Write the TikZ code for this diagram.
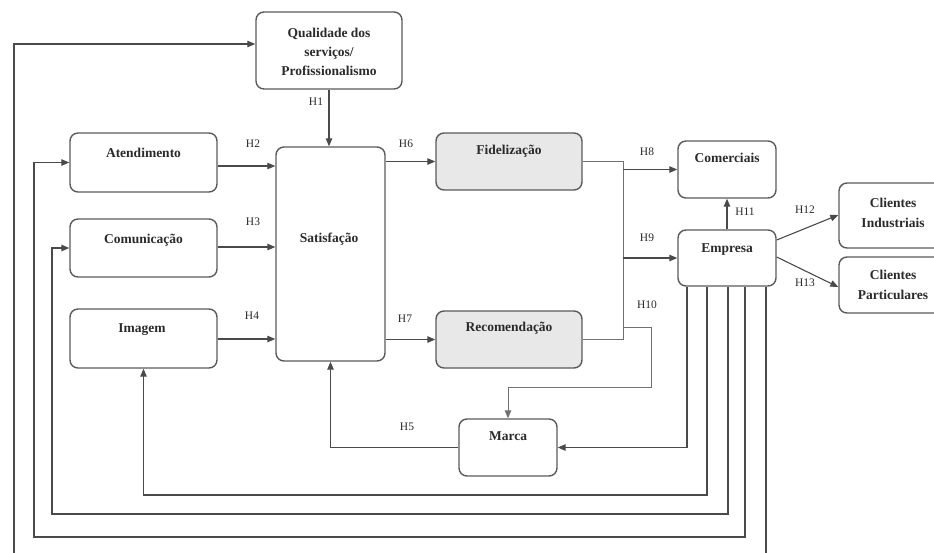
\documentclass[tikz,border=0pt]{standalone}
\usepackage{fontspec}
\setmainfont{Liberation Serif}
\usetikzlibrary{arrows.meta}
\definecolor{ln}{HTML}{4A4A4A}
\definecolor{lnl}{HTML}{707070}
\definecolor{bx}{HTML}{5A5A5A}
\definecolor{gfill}{HTML}{E8E8E8}
\definecolor{tx}{HTML}{2A2A2A}
\begin{document}
\begin{tikzpicture}[x=1pt,y=-1pt,
  box/.style={draw=bx, line width=1.4pt, rounded corners=8pt, inner sep=0pt},
  gbox/.style={box, fill=gfill},
  lab/.style={font=\fontsize{13.5}{19}\selectfont\bfseries, text=tx, align=center, inner sep=0pt},
  hl/.style={font=\fontsize{11.5}{13}\selectfont, text=tx, inner sep=0pt},
  con/.style={draw=ln, line width=1.1pt},
  arr/.style={con, -{Triangle[length=8pt,width=6.5pt]}},
  lcon/.style={draw=lnl, line width=0.9pt},
  larr/.style={lcon, -{Triangle[length=8pt,width=6.5pt]}}]
\path[use as bounding box] (0,0) rectangle (934,552);
\clip (0,0) rectangle (934,552);

% boxes
\node[box, minimum width=146pt, minimum height=77pt] (qual) at (329,50.5) {};
\node[box, minimum width=147pt, minimum height=59pt] (atd) at (143.5,162.5) {};
\node[box, minimum width=147pt, minimum height=58pt] (com) at (143.5,248) {};
\node[box, minimum width=147pt, minimum height=59pt] (img) at (143.5,338.5) {};
\node[box, minimum width=109pt, minimum height=214pt] (sat) at (330.5,254) {};
\node[gbox, minimum width=146pt, minimum height=57pt] (fid) at (509,161.5) {};
\node[gbox, minimum width=146pt, minimum height=57pt] (rec) at (509,339.5) {};
\node[box, minimum width=98pt, minimum height=57pt] (marca) at (508,447.5) {};
\node[box, minimum width=98pt, minimum height=57pt] (come) at (727,169.5) {};
\node[box, minimum width=98pt, minimum height=56pt] (emp) at (727,258) {};
\node[box, minimum width=108pt, minimum height=65pt] (ci) at (893,215.5) {};
\node[box, minimum width=108pt, minimum height=56pt] (cp) at (893,285) {};

% texts
\node[lab] (tqual) at (329,52) {Qualidade dos\\serviços/\\Profissionalismo};
\node[lab, anchor=mid] (tatd) at (143.5,155) {Atendimento};
\node[lab, anchor=mid] (tcom) at (143.5,241) {Comunicação};
\node[lab, anchor=mid] (timg) at (142,330) {Imagem};
\node[lab, anchor=mid] (tsat) at (329,240) {Satisfação};
\node[lab, anchor=mid] (tfid) at (509,152) {Fidelização};
\node[lab, anchor=mid] (trec) at (509,329) {Recomendação};
\node[lab, anchor=mid] (tmarca) at (508,438) {Marca};
\node[lab, anchor=mid] (tcome) at (727,160) {Comerciais};
\node[lab, anchor=mid] (temp) at (727,250) {Empresa};
\node[lab, font=\fontsize{13.5}{20}\selectfont\bfseries] (tci) at (893,213) {Clientes\\Industriais};
\node[lab, font=\fontsize{13.5}{20}\selectfont\bfseries] (tcp) at (893,285) {Clientes\\Particulares};

% helper coordinates
\coordinate (y44) at (0,44);
\coordinate (y166) at (0,166);
\coordinate (y247) at (0,247);
\coordinate (y339) at (0,339);
\coordinate (y240) at (0,240);
\coordinate (y215) at (0,215);
\coordinate (y257) at (0,257);
\coordinate (y287) at (0,287);
\coordinate (y495) at (0,495);
\coordinate (y514) at (0,514);
\coordinate (y537) at (0,537);
\coordinate (y580) at (0,580);
\coordinate (j1) at (623,162);
\coordinate (h10a) at (623,327);
\coordinate (h10b) at (651,387);
\coordinate (x1) at (687,0);
\coordinate (x2) at (707,0);
\coordinate (x3) at (728,0);
\coordinate (x4) at (745,0);
\coordinate (x5) at (766,0);
\coordinate (xl3) at (52,0);
\coordinate (xl4) at (34,0);
\coordinate (xl5) at (14,0);

% connectors into Satisfacao
\draw[arr] (qual.south) -- (qual.south |- sat.north);
\draw[arr] (atd.east |- y166) -- (sat.west |- y166);
\draw[arr] (com.east |- y247) -- (sat.west |- y247);
\draw[arr] (img.east |- y339) -- (sat.west |- y339);
\draw[arr] (marca.west) -| (sat.south);

% out of Satisfacao
\draw[arr] (sat.east |- fid.west) -- (fid.west);
\draw[arr] (sat.east |- rec.west) -- (rec.west);

% Fidelizacao / Recomendacao junction
\draw[lcon] (fid.east) -| (j1 |- rec.east) -- (rec.east);
\draw[arr] (j1 |- come.west) -- (come.west);
\draw[arr] (j1 |- emp.west) -- (emp.west);
\draw[larr] (h10a) -| (h10b) -| (marca.north);

% Empresa
\draw[arr] (emp.north) -- (come.south);
\draw[arr] (emp.east |- y240) -- (ci.west |- y215);
\draw[arr] (emp.east |- y257) -- (cp.west |- y287);
\draw[arr] (emp.south -| x1) |- (marca.east);
\draw[arr] (emp.south -| x2) -- (x2 |- y495) -| (img.south);
\draw[arr] (emp.south -| x3) -- (x3 |- y514) -| (xl3 |- com.west) -- (com.west);
\draw[arr] (emp.south -| x4) -- (x4 |- y537) -| (xl4 |- atd.west) -- (atd.west);
\draw[arr] (emp.south -| x5) -- (x5 |- y580) -| (xl5 |- y44) -- (qual.west |- y44);

% hypothesis labels
\node[hl] (h1) at (316,102) {H1};
\node[hl] (h2) at (253,144) {H2};
\node[hl] (h3) at (253,222) {H3};
\node[hl] (h4) at (252,316) {H4};
\node[hl] (h5) at (407,427) {H5};
\node[hl] (h6) at (406,144) {H6};
\node[hl] (h7) at (405,319) {H7};
\node[hl] (h8) at (647,152) {H8};
\node[hl] (h9) at (647,238) {H9};
\node[hl] (h10) at (647,305) {H10};
\node[hl] (h11) at (745,212) {H11};
\node[hl] (h12) at (805,210) {H12};
\node[hl] (h13) at (805,283) {H13};
\end{tikzpicture}
\end{document}
